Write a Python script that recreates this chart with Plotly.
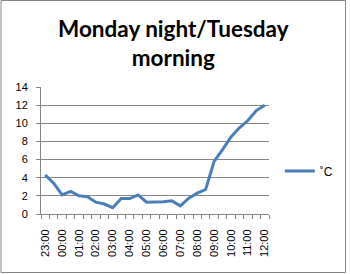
import plotly.graph_objects as go

times = ["23:00", "23:30", "00:00", "00:30", "01:00", "01:30", "02:00", "02:30",
         "03:00", "03:30", "04:00", "04:30", "05:00", "05:30", "06:00", "06:30",
         "07:00", "07:30", "08:00", "08:30", "09:00", "09:30", "10:00", "10:30",
         "11:00", "11:30", "12:00"]
temps = [4.3, 3.4, 2.1, 2.5, 2.0, 1.9, 1.3, 1.1, 0.7, 1.7, 1.7, 2.1, 1.3, 1.3,
         1.35, 1.45, 0.9, 1.75, 2.3, 2.7, 5.8, 7.1, 8.5, 9.5, 10.3, 11.4, 12.0]
hour_labels = ["23:00", "00:00", "01:00", "02:00", "03:00", "04:00", "05:00",
               "06:00", "07:00", "08:00", "09:00", "10:00", "11:00", "12:00"]
y_ticks = [0, 2, 4, 6, 8, 10, 12, 14]
title_text = "<b>Monday night/Tuesday<br>morning</b>"

W, H = 350, 274
L, R, T, B = 41, 78, 87, 60
pw = W - L - R
ph = H - T - B


def px_x(p):
    return (p - L) / pw


def px_y(p):
    return (H - B - p) / ph


fig = go.Figure()
fig.add_trace(go.Scatter(x=times, y=temps, mode="lines", name="˚C",
                         line=dict(color="#4a7ebb", width=3)))
fig.add_trace(go.Scatter(x=[-0.5], y=[0], xaxis="x2", mode="markers",
                         marker=dict(opacity=0), showlegend=False, hoverinfo="skip"))

tick_font = dict(family="Liberation Sans, Arial", size=11, color="#000000")
fig.update_layout(
    width=W, height=H,
    margin=dict(l=L, r=R, t=T, b=B),
    paper_bgcolor="white", plot_bgcolor="white",
    xaxis=dict(type="category", categoryorder="array", categoryarray=times,
               range=[-0.5, len(times) - 0.5],
               tickmode="array", tickvals=hour_labels, ticktext=hour_labels,
               tickangle=-90, tickfont=tick_font,
               ticks="outside", ticklen=4, tickcolor="rgba(0,0,0,0)",
               ticklabelstandoff=6,
               showgrid=False, showline=True, linecolor="#868686", linewidth=1,
               zeroline=False),
    xaxis2=dict(overlaying="x", anchor="y", range=[-0.5, len(times) - 0.5],
                tickmode="linear", tick0=-0.5, dtick=1,
                ticks="outside", ticklen=4, tickcolor="#868686",
                showticklabels=False, showgrid=False, zeroline=False,
                side="bottom", showline=False),
    yaxis=dict(range=[0, 14], tickmode="array", tickvals=y_ticks,
               tickfont=tick_font, ticks="outside", ticklen=4,
               tickcolor="#868686", showgrid=True, gridcolor="#868686",
               gridwidth=1, showline=True, linecolor="#868686", linewidth=1,
               zeroline=False, ticklabelstandoff=6),
    legend=dict(x=px_x(283), xanchor="left", y=px_y(171),
                yanchor="middle", font=dict(family="Liberation Sans, Arial",
                                            size=12, color="#000000"),
                bgcolor="rgba(0,0,0,0)"),
    showlegend=True,
)

fig.add_annotation(text=title_text, xref="paper", yref="paper",
                   x=px_x(175), y=px_y(13), xanchor="center", yanchor="top",
                   showarrow=False, align="center",
                   font=dict(family="Lato, Noto Sans", size=22.5, color="#000000"))

fig.add_shape(type="rect", xref="paper", yref="paper",
              x0=px_x(0.5), x1=px_x(349.5),
              y0=px_y(272.5), y1=px_y(0.5),
              line=dict(color="#868686", width=1), fillcolor="rgba(0,0,0,0)",
              layer="below")

fig.write_html("out.html")
